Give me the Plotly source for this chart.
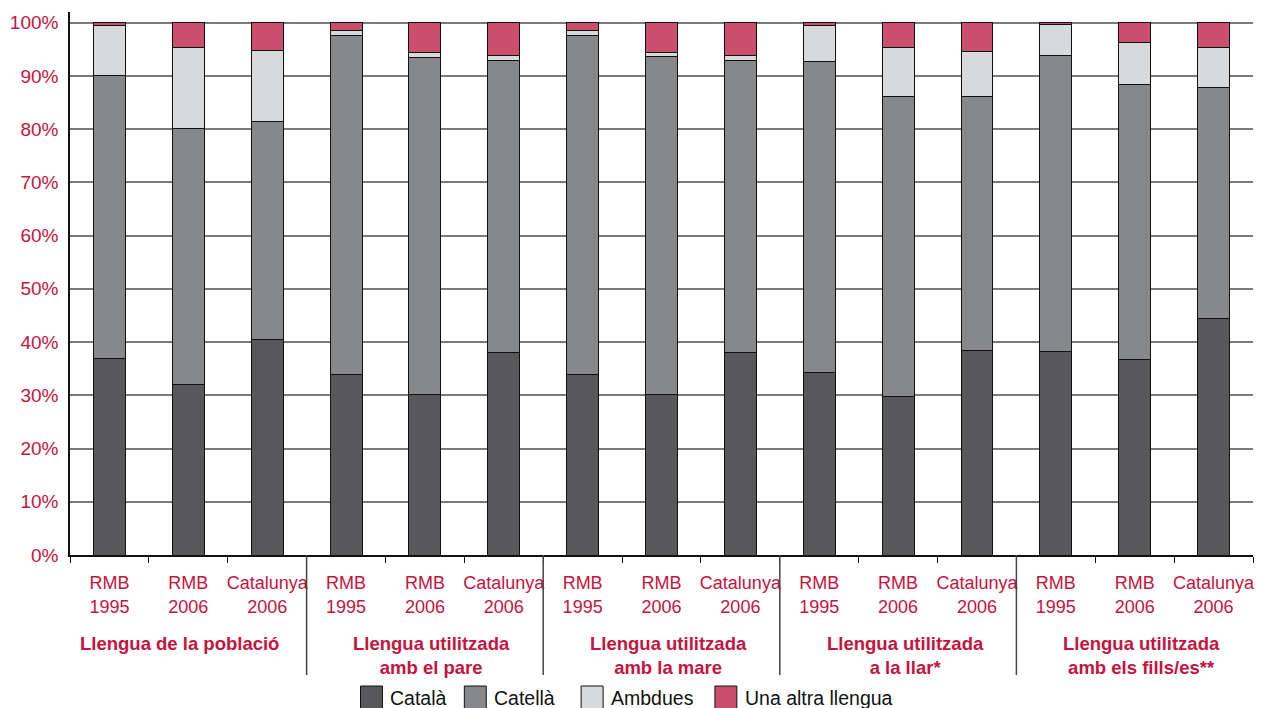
import plotly.graph_objects as go

# Survey groups and the three samples shown inside each group
groups = [
    "Llengua de la població",
    "Llengua utilitzada<br>amb el pare",
    "Llengua utilitzada<br>amb la mare",
    "Llengua utilitzada<br>a la llar*",
    "Llengua utilitzada<br>amb els fills/es**",
]
samples = ["RMB<br>1995", "RMB<br>2006", "Catalunya<br>2006"]

# Percentages per bar (5 groups x 3 samples)
catala = [37.0, 32.1, 40.5, 34.0, 30.1, 38.1, 34.0, 30.1, 38.0, 34.3, 29.8, 38.5, 38.3, 36.8, 44.5]
castella = [53.0, 48.0, 40.9, 63.5, 63.3, 54.7, 63.6, 63.5, 54.8, 58.4, 56.4, 47.6, 55.6, 51.6, 43.4]
ambdues = [9.4, 15.3, 13.35, 1.1, 1.0, 1.1, 1.0, 0.8, 1.1, 6.8, 9.05, 8.5, 5.7, 7.8, 7.5]
altra = [0.6, 4.6, 5.25, 1.4, 5.6, 6.1, 1.4, 5.6, 6.1, 0.5, 4.75, 5.4, 0.4, 3.8, 4.6]

series_names = ["Català", "Catellà", "Ambdues", "Una altra llengua"]
series_values = [catala, castella, ambdues, altra]
y_ticks = [0, 10, 20, 30, 40, 50, 60, 70, 80, 90, 100]

colors = ["#58585a", "#87888a", "#d8d9db", "#c94f6d"]
accent = "#c4143f"
FONT = "Liberation Sans, Arial, sans-serif"

W, H = 1261, 708
ML, MR, MT, MB = 70, 6, 12, 153
plot_w = W - ML - MR
plot_h = H - MT - MB

n_s = len(samples)
positions = list(range(len(groups) * n_s))
tick_text = [samples[i % n_s] for i in positions]

fig = go.Figure()
for name, vals, col in zip(series_names, series_values, colors):
    fig.add_trace(go.Bar(
        x=positions, y=vals, name=name,
        marker=dict(color=col, line=dict(color="#111111", width=1)),
        showlegend=False,
    ))


def px_x(px):
    return (px - ML) / plot_w


def px_y(py):
    return (H - MB - py) / plot_h


shapes = []
# dividers between groups
for g in range(1, len(groups)):
    xb = g * n_s - 0.5
    shapes.append(dict(type="line", xref="x", yref="paper", x0=xb, x1=xb,
                       y0=0, y1=px_y(675), line=dict(color="#444444", width=1.5)))

annotations = []
group_label_shift = [-9, 7, 7, 7, 7]
for g, label in enumerate(groups):
    center = g * n_s + (n_s - 1) / 2
    annotations.append(dict(
        x=center, xref="x", y=px_y(631), yref="paper", yanchor="top",
        xshift=group_label_shift[g],
        text="<b>" + label + "</b>", showarrow=False, align="center",
        font=dict(family=FONT, size=18.5, color=accent),
    ))

# legend drawn as boxes with labels below the chart
legend_boxes = [361, 465, 582, 716]
for name, col, bx in zip(series_names, colors, legend_boxes):
    shapes.append(dict(type="rect", xref="paper", yref="paper",
                       x0=px_x(bx), x1=px_x(bx + 22), y0=px_y(709), y1=px_y(686),
                       fillcolor=col, line=dict(color="#111111", width=1)))
    annotations.append(dict(
        x=px_x(bx + 28), xref="paper", y=px_y(698), yref="paper",
        xanchor="left", yanchor="middle", text=name, showarrow=False,
        font=dict(family=FONT, size=19.5, color="#111111"),
    ))

fig.update_layout(
    width=W, height=H,
    margin=dict(l=ML, r=MR, t=MT, b=MB),
    barmode="stack", bargap=0.595,
    plot_bgcolor="white", paper_bgcolor="white",
    font=dict(family=FONT, size=18, color=accent),
    shapes=shapes, annotations=annotations,
    showlegend=False,
)
fig.update_xaxes(
    range=[-0.5, len(positions) - 0.5],
    tickmode="array", tickvals=positions, ticktext=tick_text,
    ticks="", ticklabelstandoff=11,
    tickfont=dict(family=FONT, size=18, color=accent),
    showline=True, linecolor="#111111", linewidth=1.5,
    showgrid=False, zeroline=False,
    minor=dict(tickmode="array", tickvals=[i - 0.5 for i in range(len(positions) + 1)],
               ticks="outside", ticklen=6, tickcolor="#111111", tickwidth=1, showgrid=False),
)
fig.update_yaxes(
    range=[0, 102],
    tickmode="array", tickvals=y_ticks, ticktext=[f"{v}%" for v in y_ticks],
    tickfont=dict(family=FONT, size=19, color=accent),
    ticks="", ticklabelstandoff=6,
    showline=True, linecolor="#111111", linewidth=1.5,
    showgrid=True, gridcolor="#7a7a7a", gridwidth=1.6,
    zeroline=False,
)

fig.write_html("out.html")
